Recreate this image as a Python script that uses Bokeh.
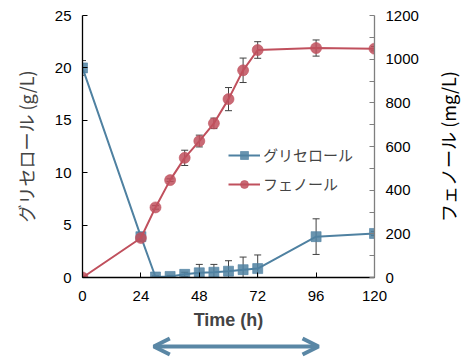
import math
from bokeh.plotting import figure
from bokeh.layouts import column, row
from bokeh.models import (Range1d, LinearAxis, FixedTicker, Whisker, TeeHead, ColumnDataSource,
                          Legend, LegendItem, Arrow, OpenHead, Label)
from bokeh.embed import file_html
from bokeh.resources import INLINE

# ---- data ----
time_gly = [0, 24, 30, 36, 42, 48, 54, 60, 66, 72, 96, 120]
glycerol = [20.0, 3.9, 0.05, 0.1, 0.3, 0.45, 0.5, 0.6, 0.75, 0.85, 3.9, 4.2]
glycerol_err = [0.7, 0.4, 0.1, 0.1, 0.2, 0.8, 0.75, 1.0, 1.2, 1.3, 1.7, 0.2]

time_phe = [0, 24, 30, 36, 42, 48, 54, 60, 66, 72, 96, 120]
phenol = [0, 181, 321, 446, 548, 625, 706, 817, 949, 1042, 1051, 1048]
phenol_err = [0, 15, 8, 6, 35, 27, 24, 53, 56, 38, 37, 10]

x_ticks = [0, 24, 48, 72, 96, 120]
left_ticks = [0, 5, 10, 15, 20, 25]
right_ticks = [0, 200, 400, 600, 800, 1000, 1200]
right_minor = [100, 300, 500, 700, 900, 1100]

right_label = "フェノール (mg/L)"
arrow_span = [29.3, 97.0]   # hours
arrow_level = 0.54

GLY_COLOR = "#4f81a1"
PHE_COLOR = "#c0505d"
ARROW_COLOR = "#5a87a5"
JP_FONT = "Noto Sans CJK JP"
NUM_FONT = "Liberation Sans"

BL, BR, BT, BB = 82, 50, 15, 58
FW, FH = 292, 262
p = figure(frame_width=FW, frame_height=FH,
           x_range=Range1d(0, 120), y_range=Range1d(0, 25),
           output_backend="svg", toolbar_location=None,
           min_border_left=BL, min_border_top=BT, min_border_right=BR, min_border_bottom=BB)
p.outline_line_color = None
p.xgrid.visible = False
p.ygrid.visible = False
p.extra_y_ranges = {"phe": Range1d(0, 1200)}

def style_axis(ax, color="black"):
    ax.axis_line_color = color
    ax.axis_line_width = 1.3
    ax.major_tick_line_color = color
    ax.minor_tick_line_color = color
    ax.major_tick_in = 5
    ax.major_tick_out = 0
    ax.minor_tick_in = 0
    ax.minor_tick_out = 0
    ax.major_label_text_font = NUM_FONT
    ax.major_label_text_font_size = "15px"
    ax.major_label_text_color = "black"
    ax.major_label_standoff = 11

xa = p.xaxis[0]
style_axis(xa)
xa.major_label_standoff = 13
xa.ticker = FixedTicker(ticks=x_ticks)
xa.axis_label = "Time (h)"
xa.axis_label_text_font = NUM_FONT
xa.axis_label_text_font_style = "bold"
xa.axis_label_text_font_size = "18px"
xa.axis_label_standoff = 6

ya = p.yaxis[0]
style_axis(ya)
ya.ticker = FixedTicker(ticks=left_ticks)
ya.axis_label = "グリセロール (g/L)"
ya.axis_label_text_font = JP_FONT
ya.axis_label_text_font_style = "normal"
ya.axis_label_text_font_size = "18px"
ya.axis_label_standoff = 13

ra = LinearAxis(y_range_name="phe")
style_axis(ra, color="#7f7f7f")
ra.ticker = FixedTicker(ticks=right_ticks, minor_ticks=right_minor)
ra.minor_tick_in = 5
p.add_layout(ra, "right")

src_g = ColumnDataSource(dict(x=time_gly, y=glycerol,
                              lo=[v - e for v, e in zip(glycerol, glycerol_err)],
                              hi=[v + e for v, e in zip(glycerol, glycerol_err)]))
src_p = ColumnDataSource(dict(x=time_phe, y=phenol,
                              lo=[v - e for v, e in zip(phenol, phenol_err)],
                              hi=[v + e for v, e in zip(phenol, phenol_err)]))

lg = p.line("x", "y", source=src_g, line_color=GLY_COLOR, line_width=2)
mg = p.scatter("x", "y", source=src_g, marker="square", size=10,
               fill_color=GLY_COLOR, fill_alpha=0.85, line_color=GLY_COLOR, line_alpha=0.6)
lp = p.line("x", "y", source=src_p, line_color=PHE_COLOR, line_width=2, y_range_name="phe")
mp = p.scatter("x", "y", source=src_p, marker="circle", size=11, y_range_name="phe",
               fill_color=PHE_COLOR, fill_alpha=0.85, line_color=PHE_COLOR, line_alpha=0.6)

for src, yr in ((src_g, "default"), (src_p, "phe")):
    w = Whisker(base="x", lower="lo", upper="hi", source=src, y_range_name=yr,
                line_color="#404040", line_width=1,
                lower_head=TeeHead(size=7, line_color="#404040", line_width=1),
                upper_head=TeeHead(size=7, line_color="#404040", line_width=1))
    p.add_layout(w)

legend = Legend(items=[LegendItem(label="グリセロール", renderers=[lg, mg]),
                       LegendItem(label="フェノール", renderers=[lp, mp])],
                location=(146, 83), glyph_width=32, glyph_height=20,
                label_text_font=JP_FONT, label_text_font_size="15px",
                label_standoff=3, spacing=8, padding=0, margin=0,
                background_fill_alpha=0, border_line_color=None)
p.add_layout(legend)

# arrow strip below the chart, sharing the time axis
p2 = figure(frame_width=FW, frame_height=24, x_range=p.x_range, y_range=Range1d(0, 1),
            output_backend="svg", toolbar_location=None,
            min_border_left=BL, min_border_right=BR, min_border_top=0, min_border_bottom=0)
p2.axis.visible = False
p2.grid.visible = False
p2.outline_line_color = None
arrow = Arrow(x_start=arrow_span[0], x_end=arrow_span[1], y_start=arrow_level, y_end=arrow_level,
              line_color=ARROW_COLOR, line_width=4,
              start=OpenHead(size=16, line_color=ARROW_COLOR, line_width=4),
              end=OpenHead(size=16, line_color=ARROW_COLOR, line_width=4))
p2.add_layout(arrow)

# strip on the right holding the right axis title (reads bottom-to-top)
PH = BT + FH + BB
p3 = figure(frame_width=40, frame_height=PH, x_range=Range1d(0, 40), y_range=Range1d(0, PH),
            output_backend="svg", toolbar_location=None,
            min_border_left=0, min_border_right=0, min_border_top=0, min_border_bottom=0)
p3.axis.visible = False
p3.grid.visible = False
p3.outline_line_color = None
p3.add_layout(Label(x=23, y=BB + FH / 2, text=right_label, angle=math.pi / 2,
                    text_align="center", text_baseline="middle",
                    text_font=JP_FONT, text_font_size="18px", text_color="black"))

layout = row(column(p, p2, spacing=0), p3, spacing=0)
open("out.html", "w").write(file_html(layout, INLINE))
